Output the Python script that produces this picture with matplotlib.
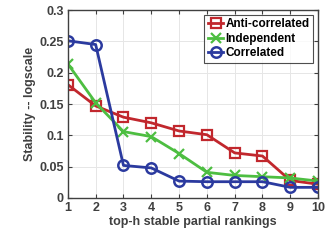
import matplotlib
matplotlib.use("Agg")
import matplotlib.pyplot as plt

plt.rcParams['font.family'] = ['Liberation Sans', 'DejaVu Sans']
plt.rcParams['font.weight'] = 'bold'
plt.rcParams['axes.labelweight'] = 'bold'

h = [1, 2, 3, 4, 5, 6, 7, 8, 9, 10]
anti = [0.181, 0.147, 0.129, 0.120, 0.107, 0.101, 0.072, 0.067, 0.028, 0.022]
indep = [0.214, 0.152, 0.106, 0.098, 0.071, 0.041, 0.036, 0.034, 0.032, 0.027]
corr = [0.251, 0.245, 0.052, 0.048, 0.027, 0.026, 0.026, 0.026, 0.017, 0.017]

fig = plt.figure(figsize=(3.31, 2.4), dpi=100)
ax = fig.add_axes([0.205, 0.175, 0.756, 0.783])

ax.plot(h, anti, color='#c1272d', marker='s', ms=6.5, mfc='none', mew=1.6, lw=2, label='Anti-correlated')
ax.plot(h, indep, color='#4dbe41', marker='x', ms=6.5, mew=1.6, lw=2, label='Independent')
ax.plot(h, corr, color='#2b3a9f', marker='o', ms=7.5, mfc='none', mew=1.8, lw=2, label='Correlated')

ax.set_xlim(1, 10)
ax.set_ylim(0, 0.3)
ax.set_xticks(h)
ax.set_yticks([0, 0.05, 0.1, 0.15, 0.2, 0.25, 0.3])
ax.set_yticklabels(['0', '0.05', '0.1', '0.15', '0.2', '0.25', '0.3'])
ax.grid(True, color='#e6e6e6', lw=0.7)
ax.set_axisbelow(True)
for s in ax.spines.values():
    s.set_color('#404040')
    s.set_linewidth(1.0)
ax.tick_params(labelsize=9, colors='#404040', length=3, direction='in', top=True, right=True, pad=3)
for t in ax.get_xticklabels() + ax.get_yticklabels():
    t.set_fontweight('bold')

ax.set_xlabel('top-h stable partial rankings', fontsize=9, color='#404040', labelpad=1, fontweight='bold')
ax.set_ylabel('Stability -- logscale', fontsize=9, color='#404040', labelpad=2, fontweight='bold')

leg = ax.legend(loc='upper right', handlelength=1.3, handletextpad=0.2,
                borderpad=0.3, labelspacing=0.2, fancybox=False, borderaxespad=0.4,
                prop={'weight': 'bold', 'size': 8.5})
leg.get_frame().set_edgecolor('#222222')
leg.get_frame().set_linewidth(0.8)

fig.savefig('out.png', dpi=100)
